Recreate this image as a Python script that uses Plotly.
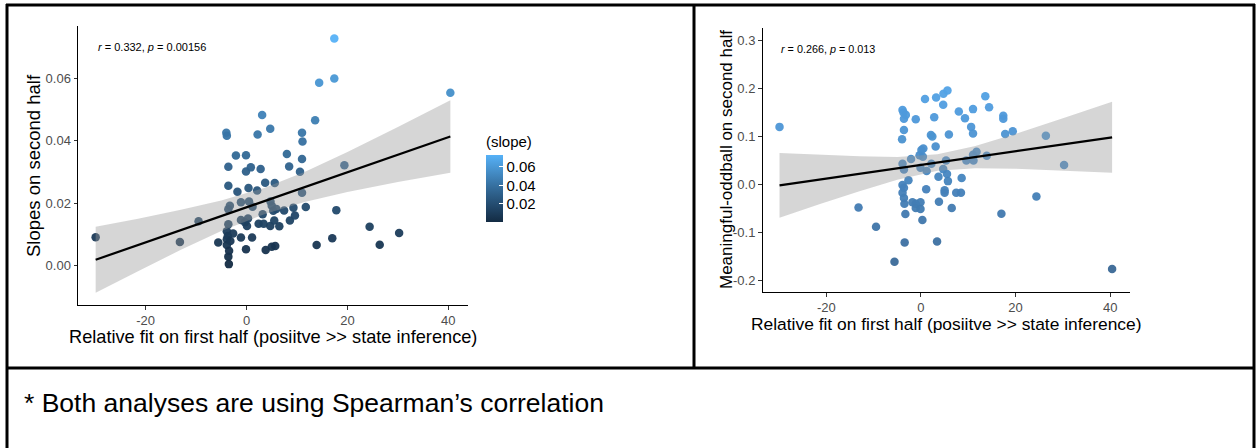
import plotly.graph_objects as go

# Per-participant values
fit_first_half = [
    -29.9, -13.2, -9.5, -5.6,
    -4.0, -3.9, -3.9, -3.9, -3.9, -3.7, -3.6, -3.6, -3.6, -3.6, -3.6, -3.5, -3.45, -3.3, -3.2, -2.65,
    -2.1, -1.8, -1.1, -1.1, -1.1, -0.3, -0.1, -0.1, -0.1, 0.1, 0.3, 0.4, 0.5, 0.85, 1.1, 1.2,
    2.1, 2.2, 2.4, 2.8, 3.1, 3.2, 3.4,
    3.7, 3.8, 4.7, 4.7, 4.75, 5.0, 5.0, 5.3, 5.5, 5.6, 5.7, 5.9,
    6.5, 7.45, 8.0, 8.45, 8.6, 9.3, 9.6,
    10.6, 11.0, 11.0, 11.0, 11.1, 11.75,
    13.6, 13.9, 14.4,
    17.0, 17.4, 17.4, 17.8,
    19.4, 24.4, 26.4, 30.25, 40.4,
]

slope_second_half = [
    0.0091, 0.0076, 0.0142, 0.0074,
    0.0426, 0.0416, 0.0110, 0.0085, 0.0066, 0.0095, 0.0317, 0.0256, 0.0181, 0.0133, 0.0029, 0.0005, 0.0048, 0.0192, 0.0079, 0.0103,
    0.0353, 0.0237, 0.0203, 0.0146, 0.0090, 0.0139, 0.0354, 0.0302, 0.0053, 0.0127, 0.0151, 0.0249, 0.0206, 0.0315, 0.0090, 0.0189,
    0.0241, 0.0420, 0.0134, 0.0310, 0.0483, 0.0165, 0.0134,
    0.0266, 0.0050, 0.0439, 0.0127, 0.0206, 0.0192, 0.0061, 0.0176, 0.0145, 0.0265, 0.0063, 0.0182,
    0.0126, 0.0177, 0.0358, 0.0318, 0.0145, 0.0186, 0.0161,
    0.0301, 0.0426, 0.0342, 0.0234, 0.0398, 0.0188,
    0.0466, 0.0066, 0.0586,
    0.0088, 0.0728, 0.0600, 0.0178,
    0.0322, 0.0125, 0.0067, 0.0105, 0.0554,
]

oddball_second_half = [
    0.119, -0.049, -0.089, -0.162,
    0.093, -0.018, 0.154, 0.042, -0.002, 0.149, -0.008, -0.029, 0.136, 0.1125, 0.030, -0.041, -0.122, -0.0625, 0.144, 0.008,
    0.052, -0.038, -0.050, 0.135, -0.041, 0.060, -0.038, 0.034, -0.052, 0.071, -0.075, 0.057, 0.074, 0.177, -0.011, 0.027,
    0.102, 0.042, 0.099, 0.139, 0.078, 0.180, -0.120,
    0.015, -0.037, 0.165, 0.031, 0.188, -0.018, -0.013, 0.049, 0.021, 0.195, 0.006, 0.103,
    -0.050, -0.018, 0.151, -0.018, 0.0125, 0.137, 0.049,
    0.119, 0.156, 0.105, 0.061, 0.049, 0.067,
    0.183, 0.059, 0.160,
    -0.062, 0.142, 0.136, 0.104,
    0.110, -0.026, 0.1007, 0.0396, -0.177,
]

# Linear smooths (fit with 95% band), sampled along the first-half axis
smooth_x = [-29.9, -21.5, -13.0, -5.0, 3.5, 11.5, 20.0, 30.0, 40.4]
slope_fit = [0.0019, 0.0066, 0.0115, 0.0160, 0.0207, 0.0252, 0.0300, 0.0356, 0.0414]
slope_upper = [0.0125, 0.0150, 0.0179, 0.0209, 0.0249, 0.0300, 0.0364, 0.0444, 0.0530]
slope_lower = [-0.0087, -0.0018, 0.0051, 0.0111, 0.0165, 0.0204, 0.0236, 0.0268, 0.0298]
oddball_fit = [-0.0028, 0.0092, 0.0213, 0.0326, 0.0448, 0.0561, 0.0682, 0.0825, 0.0973]
oddball_upper = [0.0645, 0.0608, 0.0577, 0.0563, 0.0618, 0.0792, 0.1046, 0.1369, 0.1712]
oddball_lower = [-0.0701, -0.0424, -0.0151, 0.0089, 0.0278, 0.0330, 0.0318, 0.0281, 0.0234]

x_ticks = [-20, 0, 20, 40]
x_tick_labels = ["-20", "0", "20", "40"]
slope_ticks = [0.00, 0.02, 0.04, 0.06]
slope_tick_labels = ["0.00", "0.02", "0.04", "0.06"]
oddball_ticks = [-0.2, -0.1, 0.0, 0.1, 0.2, 0.3]
oddball_tick_labels = ["-0.2", "-0.1", "0.0", "0.1", "0.2", "0.3"]
legend_ticks = [0.02, 0.04, 0.06]
legend_tick_labels = ["0.02", "0.04", "0.06"]

stats_left = "<i>r</i> = 0.332, <i>p</i> = 0.00156"
stats_right = "<i>r</i> = 0.266, <i>p</i> = 0.013"
footnote = "* Both analyses are using Spearman\u2019s correlation"

FONT = "Liberation Sans, Arial, Helvetica, sans-serif"
W, H = 1256, 448
BAND = "rgba(153,153,153,0.4)"

slope_scale = [[0.0, "#132B43"], [0.5, "#336A98"], [1.0, "#56B1F7"]]
oddball_scale = [[0.0, "#3A6896"], [0.5, "#4584BE"], [1.0, "#52A2E6"]]


def px_x(v):
    return v / W


def px_y(v):
    return 1 - v / H


fig = go.Figure()

panels = [
    dict(xa="x", ya="y", y=slope_second_half, scale=slope_scale, show=True,
         fit=slope_fit, lo=slope_lower, hi=slope_upper),
    dict(xa="x2", ya="y2", y=oddball_second_half, scale=oddball_scale, show=False,
         fit=oddball_fit, lo=oddball_lower, hi=oddball_upper),
]

for p in panels:
    marker = dict(
        size=8.5,
        color=p["y"],
        colorscale=p["scale"],
        cmin=min(p["y"]),
        cmax=max(p["y"]),
        showscale=p["show"],
        line=dict(width=0),
        opacity=0.95,
    )
    if p["show"]:
        marker["colorbar"] = dict(
            title=dict(text="(slope)", side="top", font=dict(family=FONT, size=15, color="#000")),
            tickvals=legend_ticks,
            ticktext=legend_tick_labels,
            tickfont=dict(family=FONT, size=15, color="#000"),
            ticks="inside",
            ticklen=4,
            tickcolor="white",
            outlinewidth=0,
            thickness=17,
            thicknessmode="pixels",
            len=89,
            lenmode="pixels",
            x=px_x(486),
            xanchor="left",
            y=px_y(177.5),
            yanchor="middle",
            xpad=0,
            ypad=0,
        )
    fig.add_trace(go.Scatter(
        x=fit_first_half, y=p["y"], mode="markers", marker=marker,
        xaxis=p["xa"], yaxis=p["ya"], showlegend=False, hoverinfo="skip",
    ))

    # confidence band drawn over the points, then the fitted line
    fig.add_trace(go.Scatter(
        x=smooth_x + smooth_x[::-1],
        y=p["hi"] + p["lo"][::-1],
        mode="lines", line=dict(width=0),
        fill="toself", fillcolor=BAND,
        xaxis=p["xa"], yaxis=p["ya"], showlegend=False, hoverinfo="skip",
    ))
    fig.add_trace(go.Scatter(
        x=smooth_x, y=p["fit"], mode="lines", line=dict(color="#000", width=2.2),
        xaxis=p["xa"], yaxis=p["ya"], showlegend=False, hoverinfo="skip",
    ))

axis_common = dict(
    showgrid=False, zeroline=False, showline=True, linecolor="#000", linewidth=1,
    ticks="outside", ticklen=3.5, tickwidth=1, tickcolor="#333",
    tickfont=dict(family=FONT, size=13, color="#4D4D4D"),
    mirror=False,
)

fig.update_layout(
    width=W, height=H,
    margin=dict(l=0, r=0, t=0, b=0),
    paper_bgcolor="white", plot_bgcolor="white",
    font=dict(family=FONT, color="#000"),
    xaxis=dict(axis_common, domain=[px_x(78), px_x(468)], range=[-33.4, 43.9],
               tickvals=x_ticks, ticktext=x_tick_labels, anchor="y"),
    yaxis=dict(axis_common, domain=[px_y(305), px_y(26)], range=[-0.0126, 0.0768],
               tickvals=slope_ticks, ticktext=slope_tick_labels, anchor="x"),
    xaxis2=dict(axis_common, domain=[px_x(762.5), px_x(1129.6)], range=[-33.5, 44.1],
                tickvals=x_ticks, ticktext=x_tick_labels, anchor="y2"),
    yaxis2=dict(axis_common, domain=[px_y(292), px_y(28)], range=[-0.225, 0.325],
                tickvals=oddball_ticks, ticktext=oddball_tick_labels, anchor="x2"),
)

annotations = [
    # axis titles
    dict(text="Relative fit on first half (posiitve >> state inference)", x=px_x(273), y=px_y(337),
         font=dict(size=18.2)),
    dict(text="Slopes on second half", x=px_x(33), y=px_y(166), textangle=-90, font=dict(size=18.5)),
    dict(text="Relative fit on first half (posiitve >> state inference)", x=px_x(946), y=px_y(324),
         font=dict(size=17.4)),
    dict(text="Meaningful-oddball on second half", x=px_x(726), y=px_y(160), textangle=-90,
         font=dict(size=17)),
    # correlation statistics
    dict(text=stats_left, x=px_x(96), y=px_y(47.5), xanchor="left", font=dict(size=11)),
    dict(text=stats_right, x=px_x(779), y=px_y(49), xanchor="left", font=dict(size=10.8)),
    # note under the panels
    dict(text=footnote, x=px_x(22), y=px_y(403), xanchor="left", font=dict(size=26.5)),
]
for a in annotations:
    a.setdefault("xanchor", "center")
    a.update(xref="paper", yref="paper", yanchor="middle", showarrow=False)
    a["font"] = dict(family=FONT, color="#000", **a["font"])
fig.update_layout(annotations=annotations)

# table frame around the panels and the note
frame = dict(color="#000", width=3)
shapes = [
    dict(x0=px_x(6), x1=px_x(1255), y0=px_y(5), y1=px_y(5)),
    dict(x0=px_x(7), x1=px_x(7), y0=px_y(4), y1=px_y(448)),
    dict(x0=px_x(1254), x1=px_x(1254), y0=px_y(4), y1=px_y(448)),
    dict(x0=px_x(6), x1=px_x(1255), y0=px_y(368), y1=px_y(368)),
    dict(x0=px_x(694), x1=px_x(694), y0=px_y(5), y1=px_y(368)),
]
for s in shapes:
    s.update(type="line", xref="paper", yref="paper", line=frame)
fig.update_layout(shapes=shapes)

fig.write_html("out.html", config={"displayModeBar": False})
